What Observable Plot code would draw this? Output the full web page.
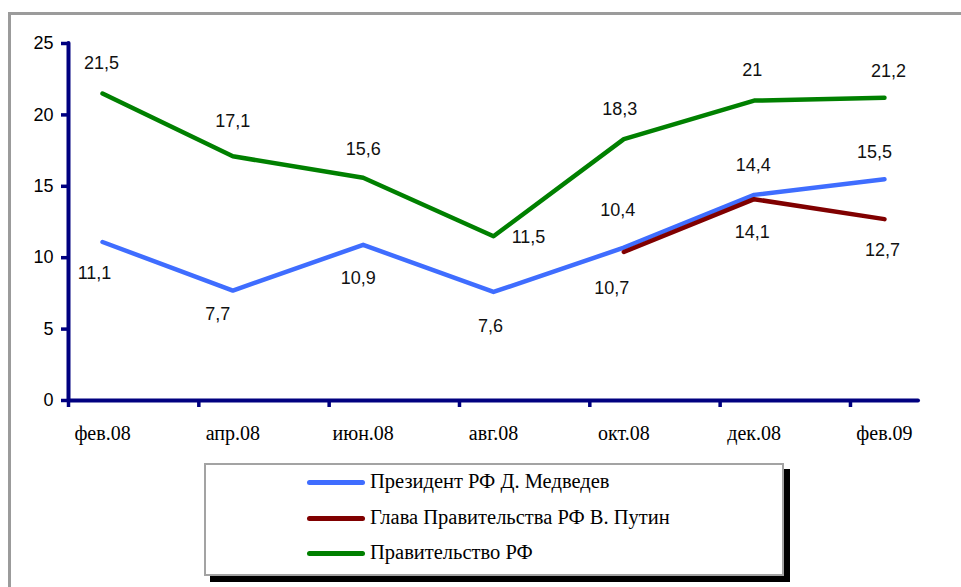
<!DOCTYPE html>
<html>
<head>
<meta charset="utf-8">
<script src="https://cdn.jsdelivr.net/npm/d3@7"></script>
<script src="https://cdn.jsdelivr.net/npm/@observablehq/plot@0.6"></script>
<style>
  html, body { margin: 0; padding: 0; background: #fff; overflow: hidden; }
  #wrap { position: relative; width: 961px; height: 587px; overflow: hidden; background: #fff; }
  #frame { position: absolute; left: 8px; top: 12px; width: 1000px; height: 640px; border: 3px solid #9b9b9b; box-sizing: border-box; }
  #chart { position: absolute; left: 0; top: 0; }
  #legend { position: absolute; left: 204px; top: 463px; width: 580px; height: 113px; box-sizing: border-box;
            border: 2.5px solid #a3a3a3; background: #fff; box-shadow: 6px 6px 0 #000; }
  .row { position: absolute; left: 0; height: 0; }
  .sw { position: absolute; left: 101px; width: 58px; height: 5px; margin-top: -2.5px; border-radius: 3px; }
  .lt { position: absolute; left: 164px; top: -13px; white-space: nowrap; font-family: "Liberation Serif", "Tinos", "Times New Roman", "DejaVu Serif", serif; font-size: 20.5px; line-height: 24px; color: #000; }
</style>
</head>
<body>
<div id="wrap">
  <div id="frame"></div>
  <div id="chart"></div>
  <div id="legend"></div>
</div>
<script>
// ---- data ----
const months = ["фев.08", "апр.08", "июн.08", "авг.08", "окт.08", "дек.08", "фев.09"];
const seriesNames = ["Президент РФ Д. Медведев", "Глава Правительства РФ В. Путин", "Правительство РФ"];
const medvedev = [11.1, 7.7, 10.9, 7.6, 10.7, 14.4, 15.5];
const putin = [null, null, null, null, 10.4, 14.1, 12.7];
const government = [21.5, 17.1, 15.6, 11.5, 18.3, 21, 21.2];
const yTicks = [0, 5, 10, 15, 20, 25];

// ---- style / layout ----
const colors = ["#3f6dff", "#800000", "#008000"];
const axisColor = "#000080";
// label offsets in pixels [dx, dy] relative to each point
const medvedevLabelOffsets = [[-8, 31], [-15, 24], [-5, 33], [-3, 34], [-12, 41], [-1, -30], [-10, -27]];
const putinLabelOffsets = [null, null, null, null, [-6, -42], [-2, 33], [-2, 31]];
const governmentLabelOffsets = [[-1, -30], [0, -35], [0, -28], [35, 1], [-4, -30], [-2, -30], [4, -27]];

const tickShift = 0.261; // category ticks sit left of the category centres
const xTicks = months.map((m, i) => i - tickShift);

const allSeries = [medvedev, putin, government];
const allOffsets = [medvedevLabelOffsets, putinLabelOffsets, governmentLabelOffsets];

const rows = [];
allSeries.forEach((vals, s) => {
  vals.forEach((v, i) => {
    if (v != null) rows.push({series: s, i, v, off: allOffsets[s][i]});
  });
});

const fmt = v => String(v).replace(".", ",");
const sans = "'Liberation Sans', Arial, sans-serif";
const serif = "'Liberation Serif', Tinos, 'Times New Roman', 'DejaVu Serif', serif";

const marks = [
  Plot.ruleX([-tickShift], {stroke: axisColor, strokeWidth: 4, strokeLinecap: "round"}),
  Plot.ruleY([0], {stroke: axisColor, strokeWidth: 4, strokeLinecap: "round"}),
  Plot.axisY({ticks: yTicks, tickSize: 7, tickPadding: 8, stroke: axisColor, strokeWidth: 3.5,
              fill: "#000", fontSize: 18, fontFamily: sans, label: null, tickFormat: d => String(d)}),
  Plot.axisX({ticks: xTicks, tickSize: 7, tickFormat: () => "", stroke: axisColor, strokeWidth: 3.5, label: null}),
  Plot.text(months, {x: (d, i) => i, y: () => 0, text: d => d, dy: 33, fontSize: 20, fontFamily: serif, fill: "#000"})
];

allSeries.forEach((vals, s) => {
  const pts = vals.map((v, i) => ({i, v})).filter(d => d.v != null);
  marks.push(Plot.line(pts, {x: "i", y: "v", stroke: colors[s], strokeWidth: 4.5,
                             strokeLinecap: "round", strokeLinejoin: "round"}));
});

rows.forEach(r => {
  marks.push(Plot.text([r], {x: "i", y: "v", text: d => fmt(d.v), dx: r.off[0], dy: r.off[1],
                             fontSize: 18, fontFamily: sans, fill: "#111"}));
});

const chart = Plot.plot({
  width: 961,
  height: 587,
  marginLeft: 68,
  marginRight: 43,
  marginTop: 43,
  marginBottom: 187,
  x: {type: "linear", domain: [-tickShift, months.length - 1 + tickShift]},
  y: {domain: [0, 25]},
  style: {background: "transparent", overflow: "visible"},
  marks
});
document.getElementById("chart").appendChild(chart);

// legend
const legend = document.getElementById("legend");
const rowY = [17, 53, 88];
seriesNames.forEach((name, s) => {
  const row = document.createElement("div");
  row.className = "row";
  row.style.top = rowY[s] + "px";
  const sw = document.createElement("div");
  sw.className = "sw";
  sw.style.background = colors[s];
  const lt = document.createElement("div");
  lt.className = "lt";
  lt.textContent = name;
  row.appendChild(sw);
  row.appendChild(lt);
  legend.appendChild(row);
});
</script>
</body>
</html>
